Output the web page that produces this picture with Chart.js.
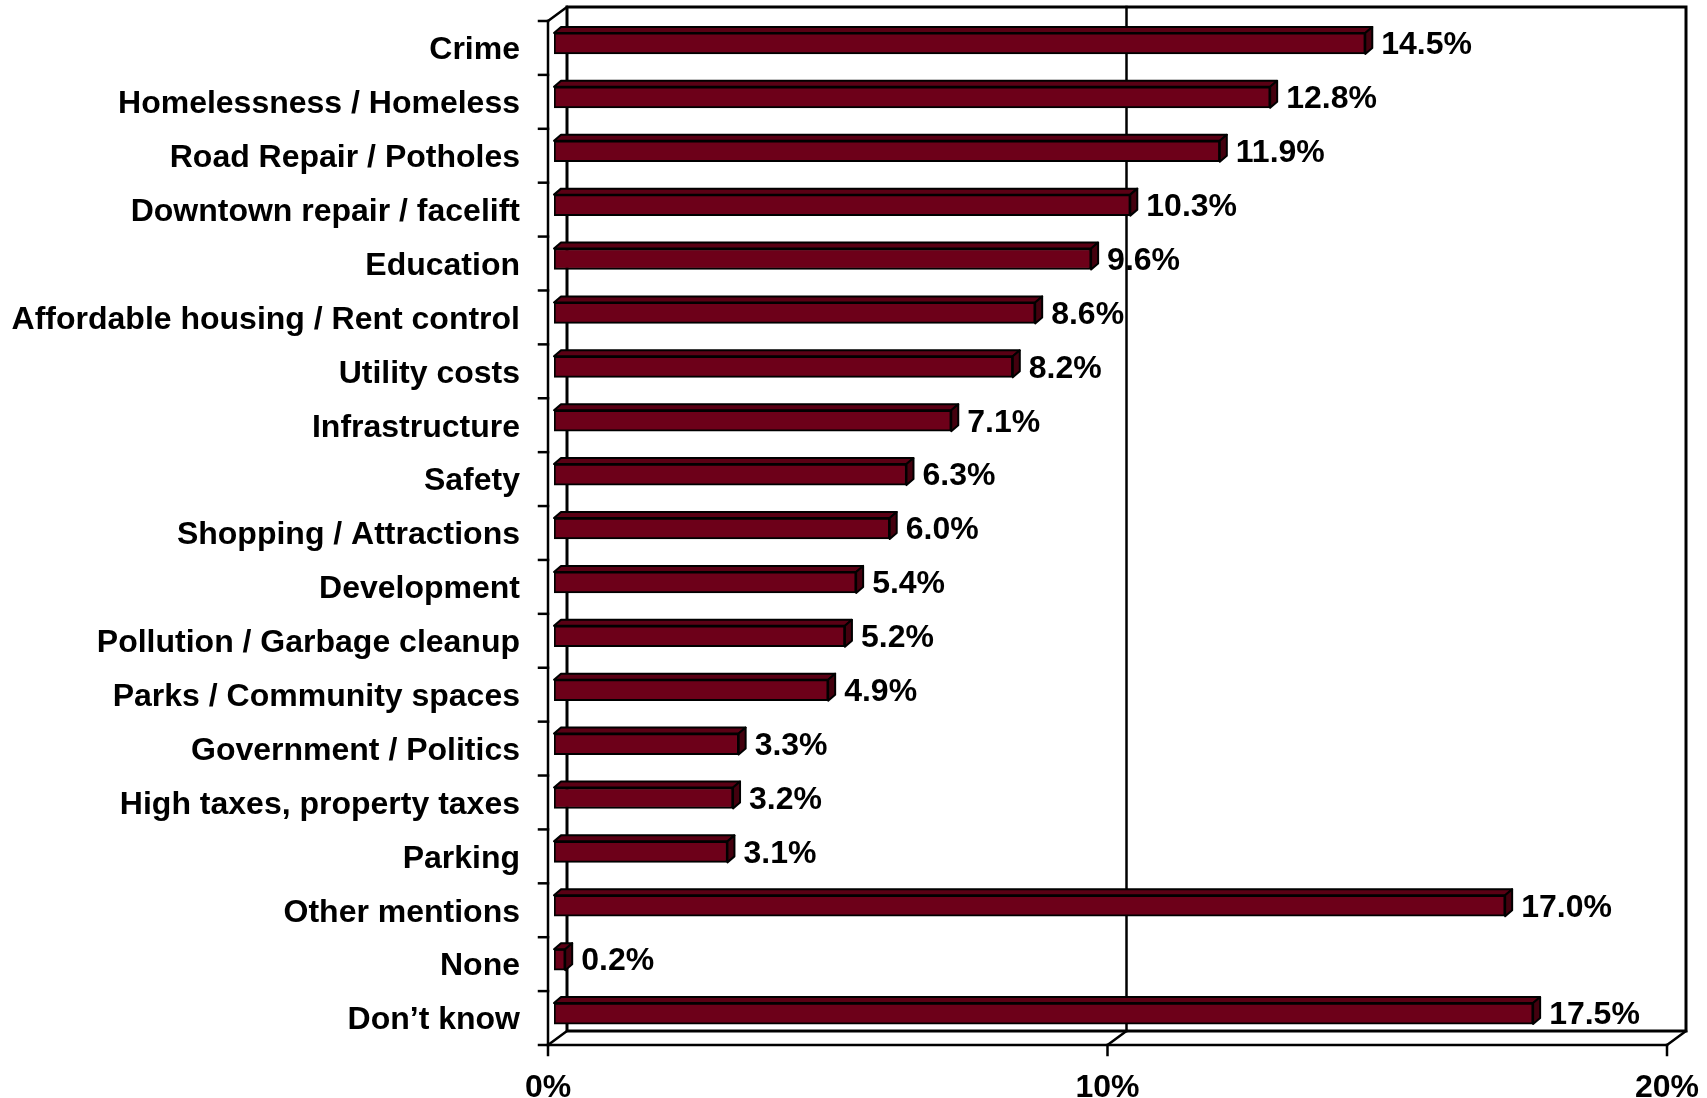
<!DOCTYPE html>
<html>
<head>
<meta charset="utf-8">
<title>Most important issues</title>
<script src="https://cdn.jsdelivr.net/npm/chart.js@4.4.1/dist/chart.umd.min.js"></script>
<style>
  html, body { margin: 0; padding: 0; background: #fff; }
  #issuesChart { display: block; }
</style>
</head>
<body>
<canvas id="issuesChart" width="1707" height="1098"></canvas>
<script>
/* Data */

const categories = [
    'Crime',
    'Homelessness / Homeless',
    'Road Repair / Potholes',
    'Downtown repair / facelift',
    'Education',
    'Affordable housing / Rent control',
    'Utility costs',
    'Infrastructure',
    'Safety',
    'Shopping / Attractions',
    'Development',
    'Pollution / Garbage cleanup',
    'Parks / Community spaces',
    'Government / Politics',
    'High taxes, property taxes',
    'Parking',
    'Other mentions',
    'None',
    'Don\u2019t know'
];
const shares = [14.5, 12.8, 11.9, 10.3, 9.6, 8.6, 8.2, 7.1, 6.3, 6.0, 5.4, 5.2, 4.9, 3.3, 3.2, 3.1, 17.0, 0.2, 17.5];
const xTickValues = [0, 10, 20];

/* Look */

const faceColor = '#6d0019';
const topColor = '#5a0014';
const sideColor = '#44000e';
const lineColor = '#000000';
const labelFont = { family: "'Liberation Sans', Arial, sans-serif", size: 32, weight: 'bold' };

// fake 3D: depth of walls/floor, depth of each bar, and where the axis plane sits relative to the bar faces
const wallDepth = { x: 19, y: -14 };
const barDepth = { x: 7, y: -6 };
const axisShift = { x: -6, y: 4.5 };

function line(ctx, x1, y1, x2, y2) {
    ctx.beginPath();
    ctx.moveTo(x1, y1);
    ctx.lineTo(x2, y2);
    ctx.stroke();
}

function poly(ctx, pts, fill) {
    ctx.beginPath();
    pts.forEach(([px, py], i) => i ? ctx.lineTo(px, py) : ctx.moveTo(px, py));
    ctx.closePath();
    ctx.fillStyle = fill;
    ctx.fill();
    ctx.stroke();
}

// fixed axis sizes; drop the label overhang padding so the plot area stays where it is put
function fixSize(prop, size) {
    return (scale) => {
        scale[prop] = size;
        scale.paddingTop = scale.paddingBottom = scale.paddingLeft = scale.paddingRight = 0;
    };
}

/* Walls, floor and ticks behind the bars */
const frame3d = {
    id: 'frame3d',
    beforeDatasetsDraw(chart) {
        const { ctx, chartArea: area, scales } = chart;
        const fx = (v) => scales.x.getPixelForValue(v) + axisShift.x;
        const top = area.top + axisShift.y;
        const bottom = area.bottom + axisShift.y;
        const left = fx(scales.x.min);
        const right = fx(scales.x.max);
        const dx = wallDepth.x, dy = wallDepth.y;

        ctx.save();
        ctx.strokeStyle = lineColor;
        ctx.lineCap = 'square';

        // back wall
        ctx.lineWidth = 3;
        ctx.strokeRect(left + dx, top + dy, right - left, bottom - top);

        ctx.lineWidth = 2.5;
        xTickValues.slice(1, -1).forEach((v) => line(ctx, fx(v) + dx, top + dy, fx(v) + dx, bottom + dy));

        // left wall
        line(ctx, left, top, left, bottom);
        line(ctx, left, top, left + dx, top + dy);

        // floor
        line(ctx, left, bottom, right, bottom);
        xTickValues.forEach((v) => {
            line(ctx, fx(v), bottom, fx(v) + dx, bottom + dy);
            line(ctx, fx(v), bottom, fx(v), bottom + 10);
        });

        // category ticks
        for (let i = 0; i <= categories.length; i++) {
            const ty = scales.y.getPixelForValue(i - 0.5) + axisShift.y;
            line(ctx, left - 9, ty, left, ty);
        }
        ctx.restore();
    },

    /* Top and end faces of the bars, plus value labels */
    afterDatasetsDraw(chart) {
        const { ctx } = chart;
        const meta = chart.getDatasetMeta(0);
        ctx.save();
        ctx.lineWidth = 2;
        ctx.strokeStyle = lineColor;
        ctx.lineJoin = 'round';
        meta.data.forEach((bar, i) => {
            const { x, y, base, height } = bar.getProps(['x', 'y', 'base', 'height'], true);
            const t = y - height / 2;
            const b = y + height / 2;
            const dx = barDepth.x, dy = barDepth.y;
            poly(ctx, [[base, t], [x, t], [x + dx, t + dy], [base + dx, t + dy]], topColor);
            poly(ctx, [[x, t], [x + dx, t + dy], [x + dx, b + dy], [x, b]], sideColor);

            ctx.fillStyle = '#000';
            ctx.font = `${labelFont.weight} ${labelFont.size}px ${labelFont.family}`;
            ctx.textAlign = 'left';
            ctx.textBaseline = 'middle';
            ctx.fillText(shares[i].toFixed(1) + '%', x + dx + 9, y + 2);
        });
        ctx.restore();
    }
};

/* Chart */

const ctx = document.getElementById('issuesChart');
new Chart(ctx, {
    type: 'bar',
    data: {
        labels: categories,
        datasets: [{
            data: shares,
            backgroundColor: faceColor,
            borderColor: lineColor,
            borderWidth: 2,
            borderSkipped: false,
            barThickness: 21
        }]
    },
    options: {
        indexAxis: 'y',
        responsive: false,
        animation: false,
        devicePixelRatio: 1,
        layout: {
            padding: { top: 16.5, right: 34, left: 0, bottom: 0 }
        },
        scales: {
            x: {
                min: 0,
                max: 20,
                afterBuildTicks: (scale) => {
                    scale.ticks = xTickValues.map((value) => ({ value }));
                },
                afterFit: fixSize('height', 57.5),
                grid: { display: false, drawTicks: false },
                border: { display: false },
                ticks: {
                    color: '#000',
                    font: labelFont,
                    padding: 28,
                    labelOffset: axisShift.x,
                    maxRotation: 0,
                    autoSkip: false,
                    callback: (v) => v + '%'
                }
            },
            y: {
                afterFit: fixSize('width', 554),
                grid: { display: false, drawTicks: false },
                border: { display: false },
                ticks: {
                    color: '#000',
                    font: labelFont,
                    padding: 34,
                    labelOffset: axisShift.y + 2.5,
                    autoSkip: false
                }
            }
        },
        plugins: {
            legend: { display: false },
            tooltip: { enabled: false }
        }
    },
    plugins: [frame3d]
});
</script>
</body>
</html>
